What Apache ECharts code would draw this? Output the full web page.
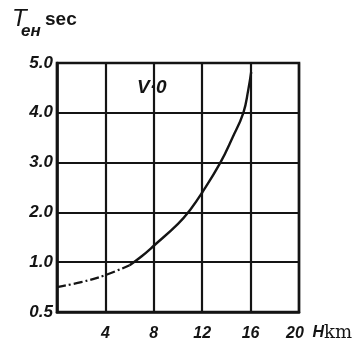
<!DOCTYPE html>
<html>
<head>
<meta charset="utf-8">
<script src="https://cdn.jsdelivr.net/npm/echarts@6/dist/echarts.min.js"></script>
<style>
  html, body { margin: 0; padding: 0; background: #fff; }
  #chart { width: 355px; height: 345px; }
</style>
</head>
<body>
<div id="chart"></div>
<script>
// Altitude H (km) and time constant T (sec), curve for V = 0
const altitudeKm = [0, 2, 4, 6];
const timeSecLow = [0.75, 0.80, 0.87, 0.97];
const altitudeKmHigh = [6, 7, 8, 10, 11, 12, 13.5, 14.5, 15.4, 15.8, 16.05];
const timeSecHigh = [0.97, 1.12, 1.33, 1.77, 2.05, 2.4, 3.0, 3.5, 4.0, 4.45, 4.82];

const xTicks = [0, 4, 8, 12, 16, 20];
const yTickLabels = ['0.5', '1.0', '2.0', '3.0', '4.0', '5.0'];

// The vertical scale is broken: 0.5–1.0 gets the same height as each whole unit above it.
function yPos(t) { return t < 1 ? 2 * t - 1 : t; }

const lowData = altitudeKm.map((h, i) => [h, yPos(timeSecLow[i])]);
const highData = altitudeKmHigh.map((h, i) => [h, yPos(timeSecHigh[i])]);

const ink = '#141414';
const labelFont = {
  color: ink,
  fontFamily: 'Liberation Sans, Arial, sans-serif',
  fontStyle: 'italic',
  fontWeight: 'bold',
  fontSize: 17
};

const chart = echarts.init(document.getElementById('chart'), null, { renderer: 'canvas' });
chart.setOption({
  backgroundColor: '#fff',
  animation: false,
  grid: {
    left: 57, right: 55, top: 63, bottom: 33,
    show: true, borderColor: ink, borderWidth: 2.6
  },
  xAxis: {
    type: 'value',
    min: 0, max: 20, interval: 4,
    axisLine: { show: true, lineStyle: { color: ink, width: 2.6 } },
    axisTick: { show: false },
    splitLine: { show: true, lineStyle: { color: ink, width: 2.2 } },
    axisLabel: Object.assign({}, labelFont, {
      fontSize: 16,
      margin: 14,
      formatter: v => v === 20 ? '{s|20}' : String(v),
      showMinLabel: false,
      rich: { s: Object.assign({}, labelFont, { fontSize: 16, padding: [0, 8, 0, 0] }) }
    }),
    name: '{h|H}{k|km}',
    nameLocation: 'end',
    nameGap: 53,
    nameTextStyle: {
      align: 'right',
      verticalAlign: 'top',
      padding: [12, 0, 0, 0],
      rich: {
        h: Object.assign({}, labelFont, { fontSize: 16 }),
        k: { color: ink, fontFamily: 'DejaVu Serif, serif', fontSize: 18 }
      }
    }
  },
  yAxis: {
    type: 'value',
    min: 0, max: 5, interval: 1,
    axisLine: { show: true, lineStyle: { color: ink, width: 2.6 } },
    axisTick: { show: false },
    splitLine: { show: true, lineStyle: { color: ink, width: 2.2 } },
    axisLabel: Object.assign({}, labelFont, {
      margin: 4,
      formatter: v => yTickLabels[Math.round(v)]
    })
  },
  graphic: [
    { type: 'text', left: 12, top: 7,
      style: { text: 'T', fill: ink, font: 'italic 24px "Liberation Sans", sans-serif' } },
    { type: 'text', left: 21, top: 23,
      style: { text: 'ен', fill: ink, font: 'italic bold 17px "Liberation Sans", sans-serif' } },
    { type: 'text', left: 45, top: 10,
      style: { text: 'sec', fill: ink, font: 'bold 19px "Liberation Sans", sans-serif' } },
    { type: 'text', left: 137, top: 78,
      style: { text: 'V·0', fill: ink, font: 'italic bold 19px "Liberation Sans", sans-serif' } }
  ],
  series: [
    {
      type: 'line', data: lowData, smooth: 0.4, symbol: 'none',
      lineStyle: { color: ink, width: 2.2, type: [9, 3, 2, 3] }
    },
    {
      type: 'line', data: highData, smooth: 0.45, symbol: 'none',
      lineStyle: { color: ink, width: 2.4 }
    }
  ]
});
</script>
</body>
</html>
